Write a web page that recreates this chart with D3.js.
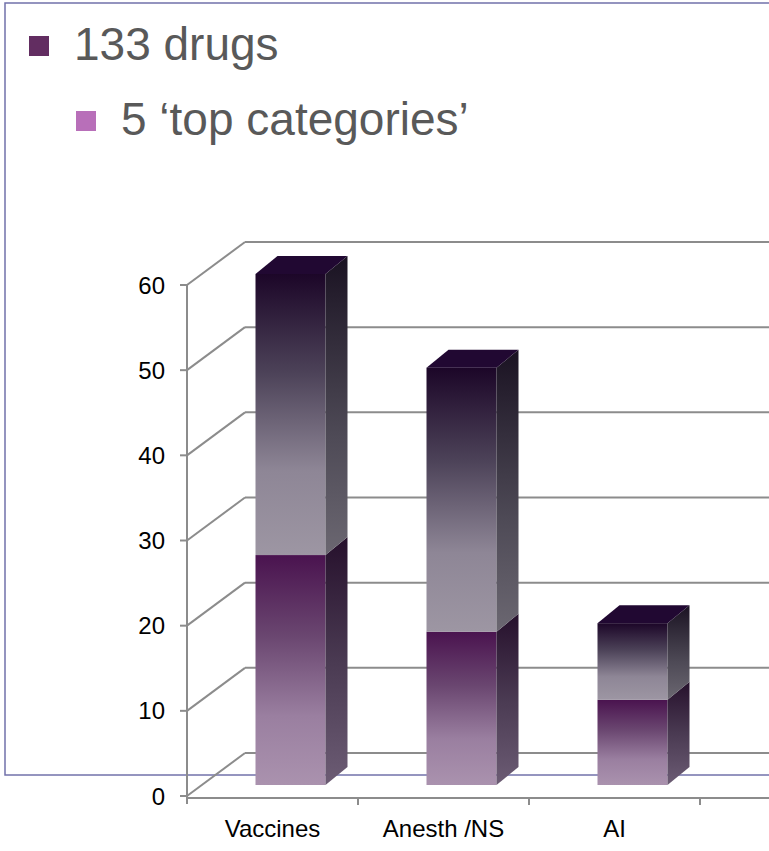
<!DOCTYPE html>
<html>
<head>
<meta charset="utf-8">
<script src="https://cdn.jsdelivr.net/npm/d3@7"></script>
<style>
  body { margin: 0; background: #fff; }
  svg { display: block; font-family: "Liberation Sans", Arial, sans-serif; }
</style>
</head>
<body>
<div id="main"></div>
<script>
/// data ///
var categories = ['Vaccines', 'Anesth /NS', 'AI'];
var topCategory = [27, 18, 10];     // lower (purple) segment
var otherDrugs = [33, 31, 9];       // upper (grey) segment
var yTicks = [0, 10, 20, 30, 40, 50, 60];
var bullets = ['133 drugs', '5 \u2018top categories\u2019'];

const w = 769;
const h = 851;

const svg = d3.select('#main')
            .append('svg')
            .attr('width', w)
            .attr('height', h);

// slide placeholder border (sits behind chart)
svg.append('rect')
    .attr('x', 5)
    .attr('y', 3)
    .attr('width', 800)
    .attr('height', 772)
    .attr('fill', 'none')
    .attr('stroke', '#7272aa')
    .attr('stroke-width', 1.5);

/// bullets ///
svg.append('rect').attr('x', 29).attr('y', 36).attr('width', 20).attr('height', 20).attr('fill', '#622d61');
svg.append('text')
    .attr('x', 74).attr('y', 60)
    .attr('font-size', 46)
    .attr('fill', '#595959')
    .text(bullets[0]);
svg.append('rect').attr('x', 76).attr('y', 111).attr('width', 20).attr('height', 20).attr('fill', '#b86fb9');
svg.append('text')
    .attr('x', 121).attr('y', 135)
    .attr('font-size', 46)
    .attr('fill', '#595959')
    .text(bullets[1]);

/// scales ///
const x = d3.scaleBand()
            .domain(categories)
            .range([187, 700])
            .padding(0);

const y = d3.scaleLinear()
            .domain([0, 60])
            .range([796, 285]);

// oblique depth of the plot box and of the bars
const wallDx = 58, wallDy = -43;
const barFrontDx = 18, barFrontDy = -11;
const sideDx = 22, sideDy = -18;
const barW = 70;
const grid = '#8c8c8c';

/// gradients ///
const defs = svg.append('defs');
function grad(id, stops) {
    let g = defs.append('linearGradient')
                .attr('id', id)
                .attr('x1', 0).attr('y1', 0)
                .attr('x2', 0).attr('y2', 1);
    stops.forEach(s => g.append('stop').attr('offset', s[0]).attr('stop-color', s[1]));
}
grad('lowFront', [[0, '#4a134f'], [0.35, '#6a4670'], [0.7, '#9a7fa0'], [1, '#aa92ae']]);
grad('lowSide', [[0, '#26102c'], [0.5, '#4a3a52'], [1, '#6c5c74']]);
grad('upFront', [[0, '#1c0628'], [0.35, '#4c4258'], [0.7, '#8e8696'], [1, '#9d96a3']]);
grad('upSide', [[0, '#1a1222'], [0.6, '#4e4a56'], [1, '#6b6771']]);

/// back wall gridlines and left wall diagonals ///
svg.selectAll('.hgrid')
    .data(yTicks)
    .enter()
    .append('line')
    .attr('class', 'hgrid')
    .attr('x1', 187 + wallDx)
    .attr('x2', w)
    .attr('y1', d => y(d) + wallDy)
    .attr('y2', d => y(d) + wallDy)
    .attr('stroke', grid)
    .attr('stroke-width', 2);

svg.selectAll('.dgrid')
    .data(yTicks)
    .enter()
    .append('line')
    .attr('class', 'dgrid')
    .attr('x1', 187)
    .attr('x2', 187 + wallDx)
    .attr('y1', d => y(d))
    .attr('y2', d => y(d) + wallDy)
    .attr('stroke', grid)
    .attr('stroke-width', 2);

/// axes ///
svg.append('line')
    .attr('x1', 187).attr('x2', 187)
    .attr('y1', y(60)).attr('y2', 804)
    .attr('stroke', grid).attr('stroke-width', 2);
svg.append('line')
    .attr('x1', 187).attr('x2', w)
    .attr('y1', 798).attr('y2', 798)
    .attr('stroke', grid).attr('stroke-width', 2);

svg.selectAll('.ytick')
    .data(yTicks)
    .enter()
    .append('line')
    .attr('x1', 180).attr('x2', 187)
    .attr('y1', d => y(d)).attr('y2', d => y(d))
    .attr('stroke', grid).attr('stroke-width', 2);

svg.selectAll('.ylab')
    .data(yTicks)
    .enter()
    .append('text')
    .attr('x', 165)
    .attr('y', d => y(d) + 8.5)
    .attr('text-anchor', 'end')
    .attr('font-size', 24)
    .attr('fill', '#000')
    .text(d => d);

svg.selectAll('.xtick')
    .data(categories)
    .enter()
    .append('line')
    .attr('x1', d => x(d) + x.bandwidth())
    .attr('x2', d => x(d) + x.bandwidth())
    .attr('y1', 798).attr('y2', 805)
    .attr('stroke', grid).attr('stroke-width', 2);

svg.selectAll('.xlab')
    .data(categories)
    .enter()
    .append('text')
    .attr('x', d => x(d) + x.bandwidth() / 2)
    .attr('y', 837)
    .attr('text-anchor', 'middle')
    .attr('font-size', 24)
    .attr('fill', '#000')
    .text(d => d);

/// 3D stacked bars ///
let segs = [];
categories.forEach(function(c, i) {
    segs.push({cat: c, y0: 0, y1: topCategory[i], part: 'low', top: false});
    segs.push({cat: c, y0: topCategory[i], y1: topCategory[i] + otherDrugs[i], part: 'up', top: true});
});

const bars = svg.selectAll('.seg')
                .data(segs)
                .enter()
                .append('g')
                .attr('class', 'seg');

const bx = d => x(d.cat) + x.bandwidth() / 2 - barW / 2 + barFrontDx;

// front face
bars.append('rect')
    .attr('x', bx)
    .attr('y', d => y(d.y1) + barFrontDy)
    .attr('width', barW)
    .attr('height', d => y(d.y0) - y(d.y1))
    .attr('fill', d => d.part === 'low' ? 'url(#lowFront)' : 'url(#upFront)');

// side face
bars.append('path')
    .attr('d', function(d) {
        let x0 = bx(d) + barW;
        let yt = y(d.y1) + barFrontDy, yb = y(d.y0) + barFrontDy;
        return `M${x0},${yt} L${x0 + sideDx},${yt + sideDy} L${x0 + sideDx},${yb + sideDy} L${x0},${yb} Z`;
    })
    .attr('fill', d => d.part === 'low' ? 'url(#lowSide)' : 'url(#upSide)');

// top face on the highest segment
bars.filter(d => d.top)
    .append('path')
    .attr('d', function(d) {
        let x0 = bx(d);
        let yt = y(d.y1) + barFrontDy;
        return `M${x0},${yt} L${x0 + sideDx},${yt + sideDy} L${x0 + barW + sideDx},${yt + sideDy} L${x0 + barW},${yt} Z`;
    })
    .attr('fill', '#210832');
</script>
</body>
</html>
